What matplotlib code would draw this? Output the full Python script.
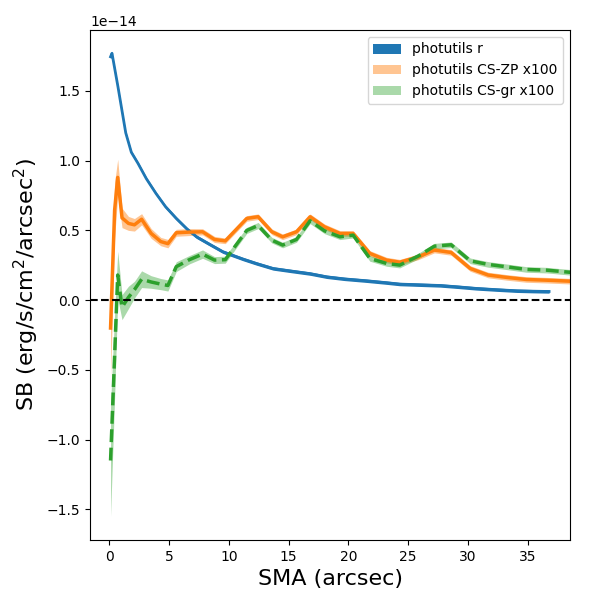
import matplotlib
matplotlib.use('Agg')
import matplotlib.pyplot as plt
import numpy as np

# surface brightness profiles, units of 1e-14 erg/s/cm2/arcsec2
sma_r = [0.1, 0.22, 0.72, 1.37, 1.84, 2.4, 3.1, 3.9, 4.7, 5.6, 6.5, 7.3,
         8.4, 9.5, 11.2, 12.3, 13.7, 15.1, 16.8, 18.2, 19.7, 21.5, 23.2,
         24.3, 26.0, 27.7, 29.2, 30.7, 32.4, 34.1, 35.5, 36.8]
sb_r = [1.745, 1.77, 1.53, 1.20, 1.06, 0.98, 0.87, 0.765, 0.67, 0.586,
        0.51, 0.454, 0.40, 0.347, 0.294, 0.263, 0.227, 0.21, 0.19, 0.167,
        0.152, 0.139, 0.125, 0.115, 0.11, 0.105, 0.095, 0.084, 0.075,
        0.067, 0.064, 0.062]
err_r = [0.012] * len(sma_r)

sma_cs = [0.1, 0.44, 0.7, 1.06, 1.6, 2.1, 2.7, 3.5, 4.3, 4.9, 5.6, 6.7,
          7.8, 8.8, 9.7, 11.5, 12.45, 13.6, 14.5, 15.66, 16.8, 18.0, 19.3,
          20.4, 21.8, 23.2, 24.3, 25.85, 27.2, 28.6, 30.2, 31.7, 33.25,
          34.9, 36.6, 38.5, 40.2]
sb_zp = [-0.2, 0.645, 0.88, 0.59, 0.55, 0.54, 0.58, 0.478, 0.42, 0.405,
         0.483, 0.488, 0.49, 0.435, 0.425, 0.586, 0.598, 0.49, 0.454, 0.49,
         0.598, 0.526, 0.478, 0.478, 0.335, 0.287, 0.272, 0.31, 0.359,
         0.342, 0.227, 0.18, 0.163, 0.148, 0.143, 0.136, 0.13]
err_zp = [0.35, 0.2, 0.13, 0.07, 0.05, 0.045, 0.04, 0.035, 0.03, 0.03,
          0.025, 0.025, 0.022, 0.022, 0.02, 0.02, 0.02, 0.02, 0.02, 0.02,
          0.02, 0.02, 0.02, 0.02, 0.02, 0.02, 0.02, 0.02, 0.02, 0.02,
          0.02, 0.02, 0.02, 0.02, 0.02, 0.02, 0.02]
sb_gr = [-1.15, -0.4, 0.18, -0.05, 0.02, 0.075, 0.15, 0.13, 0.115, 0.105,
         0.24, 0.29, 0.33, 0.287, 0.29, 0.5, 0.535, 0.43, 0.395, 0.435,
         0.569, 0.497, 0.454, 0.466, 0.299, 0.263, 0.251, 0.316, 0.387,
         0.397, 0.282, 0.256, 0.239, 0.22, 0.215, 0.2, 0.195]
err_gr = [0.4, 0.3, 0.17, 0.09, 0.08, 0.06, 0.06, 0.045, 0.04, 0.04,
          0.035, 0.03, 0.03, 0.025, 0.025, 0.022, 0.022, 0.02, 0.02, 0.02,
          0.02, 0.02, 0.02, 0.02, 0.02, 0.02, 0.02, 0.02, 0.02, 0.02,
          0.02, 0.02, 0.02, 0.02, 0.02, 0.02, 0.02]

scale = 1e-14
x_r = np.array(sma_r)
y_r = np.array(sb_r) * scale
e_r = np.array(err_r) * scale
x_cs = np.array(sma_cs)
y_zp = np.array(sb_zp) * scale
e_zp = np.array(err_zp) * scale
y_gr = np.array(sb_gr) * scale
e_gr = np.array(err_gr) * scale

fig = plt.figure(figsize=(6, 6), dpi=100)
ax = fig.add_axes([0.15, 0.1, 0.8, 0.85])

ax.fill_between(x_r, y_r - e_r, y_r + e_r, color='C0', alpha=1.0,
                lw=0, label='photutils r')
ax.plot(x_r, y_r, color='C0', lw=2)

ax.fill_between(x_cs, y_zp - e_zp, y_zp + e_zp, color='C1', alpha=0.45,
                lw=0, label='photutils CS-ZP x100')
ax.plot(x_cs, y_zp, color='C1', lw=2.5)

ax.fill_between(x_cs, y_gr - e_gr, y_gr + e_gr, color='C2', alpha=0.4,
                lw=0, label='photutils CS-gr x100')
ax.plot(x_cs, y_gr, color='C2', lw=2.5, ls='--')

ax.axhline(0, color='k', ls='--', lw=1.5)

ax.set_xlim(-1.62, 38.55)
ax.set_ylim(-1.72e-14, 1.937e-14)
ax.set_xlabel('SMA (arcsec)', fontsize=16)
ax.set_ylabel('SB (erg/s/cm$^2$/arcsec$^2$)', fontsize=16)
ax.legend(loc='upper right')

plt.savefig('out.png', dpi=100)
plt.close()
